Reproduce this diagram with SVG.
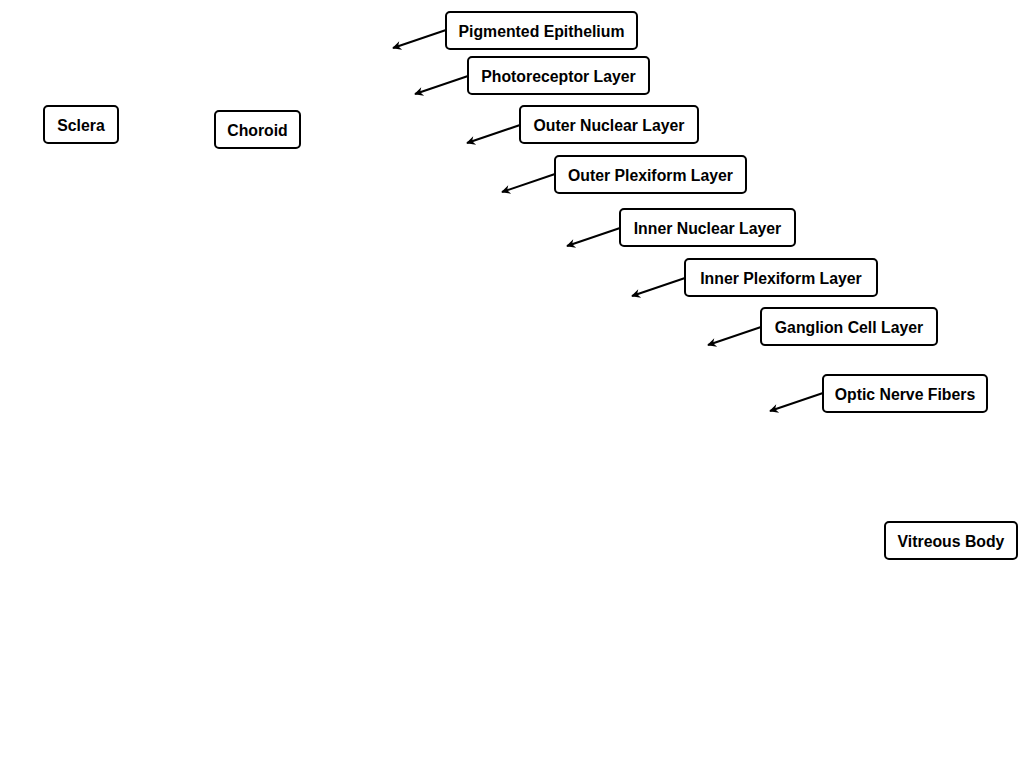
<svg xmlns="http://www.w3.org/2000/svg" width="1024" height="768" viewBox="0 0 1024 768">
<style>
.box{fill:#fff;stroke:#000;stroke-width:2}
.lbl{font-family:"Liberation Sans",Arial,sans-serif;font-weight:bold;font-size:15.8px;fill:#000;text-anchor:middle;dominant-baseline:central}
.conn{stroke:#000;stroke-width:2;fill:none;marker-end:url(#arr)}
</style>
<defs>
<marker id="arr" viewBox="0 0 10 10" refX="9" refY="5" markerWidth="11" markerHeight="9" markerUnits="userSpaceOnUse" orient="auto">
<path d="M0,0 L10,5 L0,10 L3,5 Z" fill="#000"/>
</marker>
</defs>
<rect width="1024" height="768" fill="#fff"/>
<g id="connectors">
<line class="conn" x1="446" y1="30" x2="393" y2="48"/>
<line class="conn" x1="468" y1="76" x2="415" y2="94"/>
<line class="conn" x1="520" y1="125" x2="467" y2="143"/>
<line class="conn" x1="555" y1="174" x2="502" y2="192"/>
<line class="conn" x1="620" y1="228" x2="567" y2="246"/>
<line class="conn" x1="685" y1="278" x2="632" y2="296"/>
<line class="conn" x1="761" y1="327" x2="708" y2="345"/>
<line class="conn" x1="823" y1="393" x2="770" y2="411"/>
</g>
<g id="sclera"><rect class="box" x="44" y="106" width="74" height="37" rx="4"/><text class="lbl" x="81" y="125">Sclera</text></g>
<g id="choroid"><rect class="box" x="215" y="111" width="85" height="37" rx="4"/><text class="lbl" x="257.5" y="130">Choroid</text></g>
<g id="pigmented"><rect class="box" x="446" y="12" width="191" height="37" rx="4"/><text class="lbl" x="541.5" y="31">Pigmented Epithelium</text></g>
<g id="photoreceptor"><rect class="box" x="468" y="57" width="181" height="37" rx="4"/><text class="lbl" x="558.5" y="76">Photoreceptor Layer</text></g>
<g id="outer-nuclear"><rect class="box" x="520" y="106" width="178" height="37" rx="4"/><text class="lbl" x="609" y="125">Outer Nuclear Layer</text></g>
<g id="outer-plexiform"><rect class="box" x="555" y="156" width="191" height="37" rx="4"/><text class="lbl" x="650.5" y="175">Outer Plexiform Layer</text></g>
<g id="inner-nuclear"><rect class="box" x="620" y="209" width="175" height="37" rx="4"/><text class="lbl" x="707.5" y="228">Inner Nuclear Layer</text></g>
<g id="inner-plexiform"><rect class="box" x="685" y="259" width="192" height="37" rx="4"/><text class="lbl" x="781" y="278">Inner Plexiform Layer</text></g>
<g id="ganglion"><rect class="box" x="761" y="308" width="176" height="37" rx="4"/><text class="lbl" x="849" y="327">Ganglion Cell Layer</text></g>
<g id="optic-nerve"><rect class="box" x="823" y="375" width="164" height="37" rx="4"/><text class="lbl" x="905" y="394">Optic Nerve Fibers</text></g>
<g id="vitreous"><rect class="box" x="885" y="522" width="132" height="37" rx="4"/><text class="lbl" x="951" y="541">Vitreous Body</text></g>
</svg>
